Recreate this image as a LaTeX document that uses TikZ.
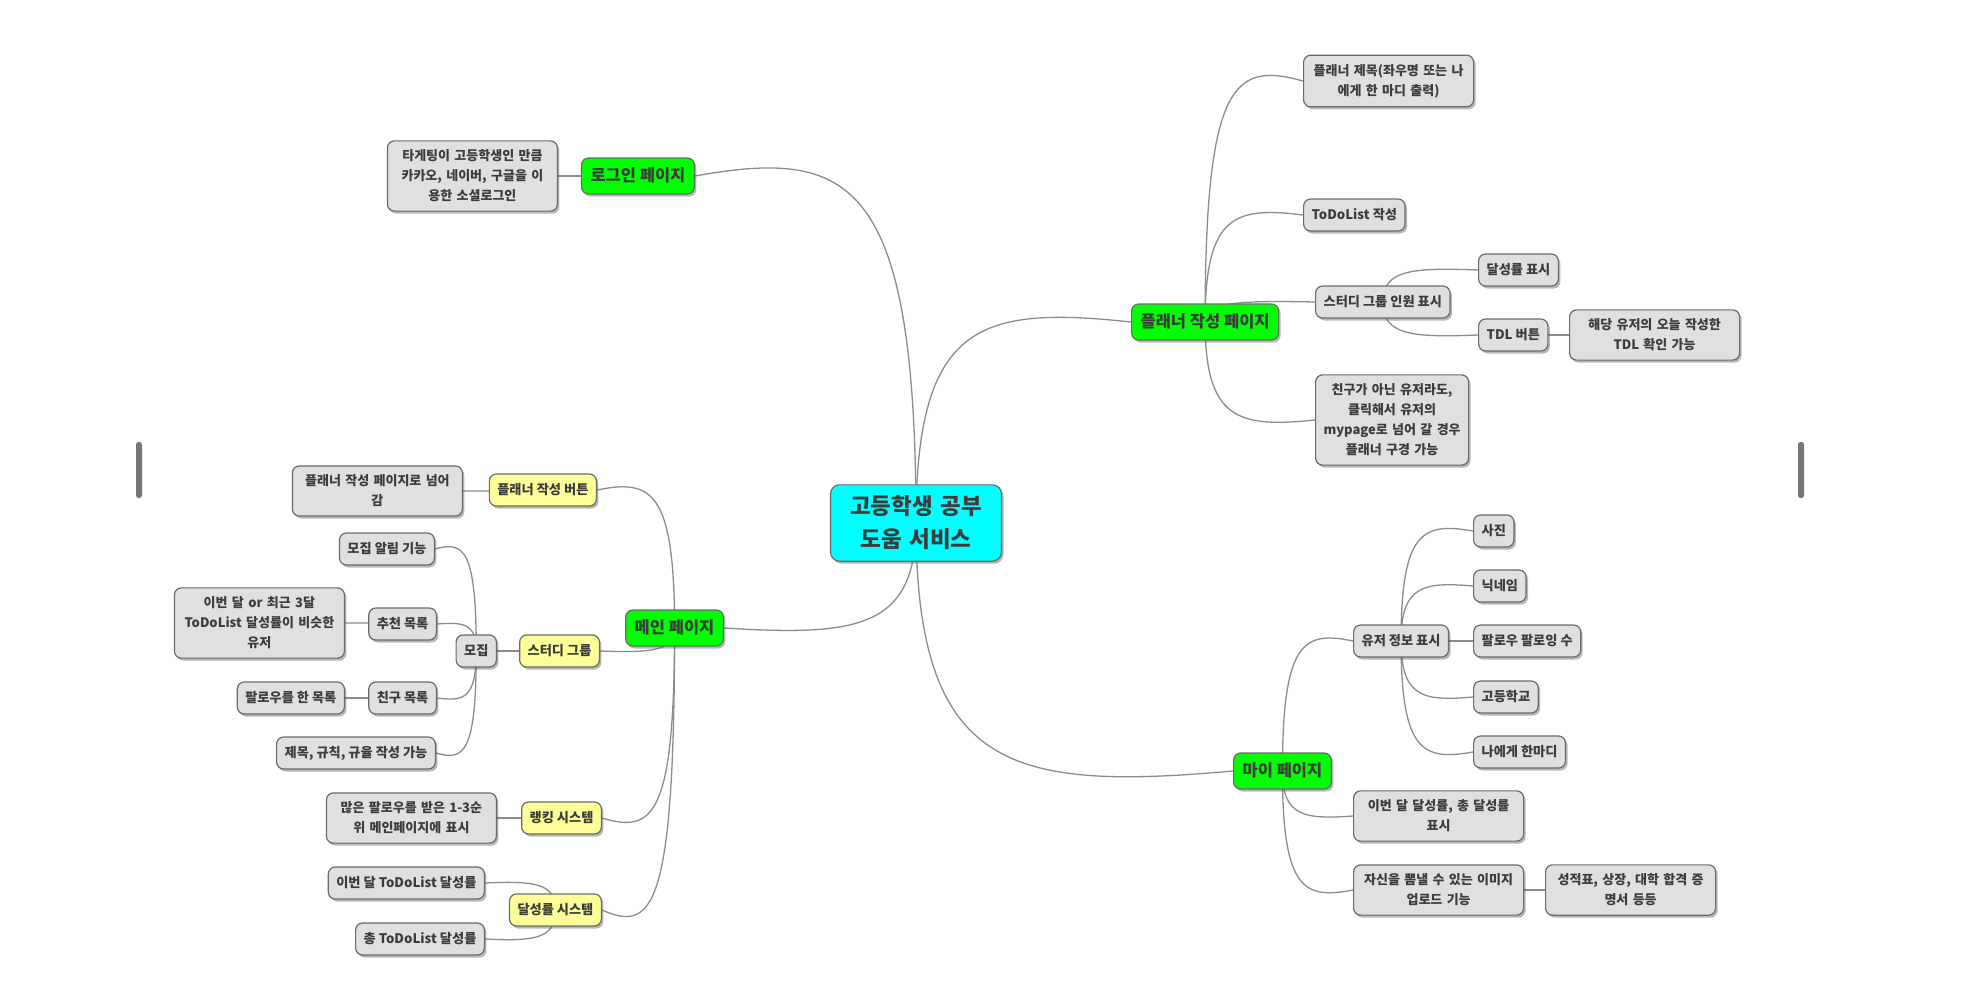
\documentclass[tikz,border=0pt]{standalone}
\usepackage{fontspec}
\setmainfont{Noto Sans CJK KR}
\usetikzlibrary{calc,shadows}
\definecolor{txt}{HTML}{3C3C3C}
\definecolor{bordr}{HTML}{6A6A6A}
\definecolor{linec}{HTML}{8C8C8C}
\definecolor{gfill}{HTML}{E0E0E0}
\definecolor{yfill}{HTML}{FFFF99}
\definecolor{greenf}{HTML}{00FF00}
\definecolor{cyanf}{HTML}{00FFFF}
\definecolor{scrollc}{HTML}{777777}
\pgfdeclarelayer{bg}
\pgfdeclarelayer{edges}
\pgfsetlayers{bg,edges,main}
\tikzset{
  base/.style={draw=bordr, line width=1.2pt, rounded corners=7pt, text=txt,
    drop shadow={shadow xshift=2pt, shadow yshift=-2.5pt, opacity=0.4, fill=black!70}},
  leaf/.style={base, fill=gfill, font=\bfseries\fontsize{13.2}{20}\selectfont,
    inner xsep=8pt, inner ysep=9.5pt, text height=10.5pt, text depth=2.5pt},
  yel/.style={leaf, fill=yfill},
  multi/.style={base, fill=gfill, font=\bfseries\fontsize{13}{20}\selectfont,
    text width=162pt, align=center, inner xsep=4pt, inner ysep=9pt},
  lone/.style={base, fill=greenf, font=\bfseries\fontsize{16.5}{20}\selectfont,
    inner xsep=9pt, inner ysep=10pt, text height=13pt, text depth=3pt},
  rootn/.style={base, fill=cyanf, font=\bfseries\fontsize{22.5}{33}\selectfont,
    text width=143pt, align=center, inner xsep=14pt, inner ysep=11pt, rounded corners=9pt},
  conn/.style={draw=linec, line width=1.3pt}
}
\newcommand\mmlink[2]{\draw[conn] let \p1=(#1.center), \p2=(#2) in (\p1) .. controls (\x1,\y2) and ({\x1+0.3*(\x2-\x1)},{\y2+0.08*(\y2-\y1)}) .. (\p2);}
\begin{document}
\begin{tikzpicture}[x=1pt,y=-1pt]
\begin{pgfonlayer}{bg}
\fill[white] (0,0) rectangle (1964,983);
\end{pgfonlayer}
\useasboundingbox (0,0) rectangle (1964,983);
% scroll handles
\fill[scrollc, rounded corners=2.5pt] (136,442) rectangle (142,498);
\fill[scrollc, rounded corners=2.5pt] (1798,442) rectangle (1804,498);

% root
\node[rootn] (root) at (916,523) {고등학생 공부\\도움 서비스};

% level 1
\node[lone, anchor=east] (login) at (695,176) {로그인 페이지};
\node[lone, anchor=west] (planner) at (1131,322) {플래너 작성 페이지};
\node[lone, anchor=east] (main) at (724,628) {메인 페이지};
\node[lone, anchor=west] (my) at (1233,771) {마이 페이지};

% login
\node[multi, anchor=east] (logintxt) at (558,176) {타게팅이 고등학생인 만큼\\카카오, 네이버, 구글을 이\\용한 소셜로그인};

% planner
\node[multi, anchor=west] (ptitle) at (1303,81) {플래너 제목(좌우명 또는 나\\에게 한 마디 출력)};
\node[leaf, anchor=west] (todo) at (1303,215) {ToDoList 작성};
\node[leaf, anchor=west] (sgm) at (1315,302) {스터디 그룹 인원 표시};
\node[leaf, anchor=west] (rate) at (1478,270) {달성률 표시};
\node[leaf, anchor=west] (tdl) at (1478,335) {TDL 버튼};
\node[multi, anchor=west] (tdlt) at (1569,335) {해당 유저의 오늘 작성한\\TDL 확인 가능};
\node[multi, anchor=west, text width=143pt, inner xsep=5pt] (friend) at (1315,420) {친구가 아닌 유저라도,\\클릭해서 유저의\\mypage로 넘어 갈 경우\\플래너 구경 가능};

% main
\node[yel, anchor=east] (pbtn) at (597,490) {플래너 작성 버튼};
\node[multi, anchor=east] (pbtnt) at (463,491) {플래너 작성 페이지로 넘어\\감};
\node[yel, anchor=east] (sg) at (600,651) {스터디 그룹};
\node[leaf, anchor=east] (recruit) at (497,651) {모집};
\node[leaf, anchor=east] (notify) at (435,549) {모집 알림 기능};
\node[leaf, anchor=east] (recom) at (437,624) {추천 목록};
\node[multi, anchor=east] (recomt) at (345,623) {이번 달 or 최근 3달\\ToDoList 달성률이 비슷한\\유저};
\node[leaf, anchor=east] (flist) at (437,698) {친구 목록};
\node[leaf, anchor=east] (flistt) at (345,698) {팔로우를 한 목록};
\node[leaf, anchor=east] (rules) at (436,753) {제목, 규칙, 규율 작성 가능};
\node[yel, anchor=east] (rank) at (602,818) {랭킹 시스템};
\node[multi, anchor=east] (rankt) at (497,818) {많은 팔로우를 받은 1-3순\\위 메인페이지에 표시};
\node[yel, anchor=east] (ach) at (602,910) {달성률 시스템};
\node[leaf, anchor=east] (ach1) at (485,883) {이번 달 ToDoList 달성률};
\node[leaf, anchor=east] (ach2) at (485,939) {총 ToDoList 달성률};

% my page
\node[leaf, anchor=west] (uinfo) at (1353,641) {유저 정보 표시};
\node[leaf, anchor=west] (photo) at (1473,531) {사진};
\node[leaf, anchor=west] (nick) at (1473,586) {닉네임};
\node[leaf, anchor=west] (follow) at (1473,641) {팔로우 팔로잉 수};
\node[leaf, anchor=west] (school) at (1473,697) {고등학교};
\node[leaf, anchor=west] (word) at (1473,752) {나에게 한마디};
\node[multi, anchor=west] (mrate) at (1353,816) {이번 달 달성률, 총 달성률\\표시};
\node[multi, anchor=west] (upload) at (1353,890) {자신을 뽐낼 수 있는 이미지\\업로드 기능};
\node[multi, anchor=west] (cert) at (1545,890) {성적표, 상장, 대학 합격 증\\명서 등등};

\begin{pgfonlayer}{edges}
\mmlink{root}{login.east}
\mmlink{root}{planner.west}
\mmlink{root}{main.east}
\mmlink{root}{my.west}
\mmlink{login}{logintxt.east}
\mmlink{planner}{ptitle.west}
\mmlink{planner}{todo.west}
\mmlink{planner}{sgm.west}
\mmlink{planner}{friend.west}
\mmlink{sgm}{rate.west}
\mmlink{sgm}{tdl.west}
\mmlink{tdl}{tdlt.west}
\mmlink{main}{pbtn.east}
\mmlink{main}{sg.east}
\mmlink{main}{rank.east}
\mmlink{main}{ach.east}
\mmlink{pbtn}{pbtnt.east}
\mmlink{sg}{recruit.east}
\mmlink{recruit}{notify.east}
\mmlink{recruit}{recom.east}
\mmlink{recruit}{flist.east}
\mmlink{recruit}{rules.east}
\mmlink{recom}{recomt.east}
\mmlink{flist}{flistt.east}
\mmlink{rank}{rankt.east}
\mmlink{ach}{ach1.east}
\mmlink{ach}{ach2.east}
\mmlink{my}{uinfo.west}
\mmlink{my}{mrate.west}
\mmlink{my}{upload.west}
\mmlink{uinfo}{photo.west}
\mmlink{uinfo}{nick.west}
\mmlink{uinfo}{follow.west}
\mmlink{uinfo}{school.west}
\mmlink{uinfo}{word.west}
\mmlink{upload}{cert.west}
\end{pgfonlayer}
\end{tikzpicture}
\end{document}
